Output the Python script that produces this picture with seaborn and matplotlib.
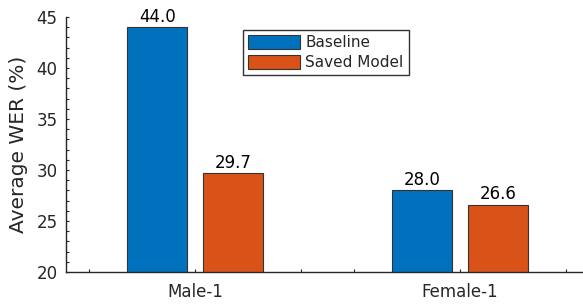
import matplotlib
matplotlib.use('Agg')
import matplotlib.pyplot as plt
from matplotlib.patches import Patch
from matplotlib.ticker import MultipleLocator
import pandas as pd
import seaborn as sns

speakers = ['Male-1', 'Female-1']
models = ['Baseline', 'Saved Model']
baseline_wer = [44.0, 28.0]
saved_wer = [29.7, 26.6]
colors = ['#0072BD', '#D95319']

df = pd.DataFrame({
    'speaker': speakers * 2,
    'model': [models[0]] * 2 + [models[1]] * 2,
    'wer': baseline_wer + saved_wer,
})

sns.set_style('ticks')
plt.rcParams['font.family'] = ['DejaVu Sans']

fig = plt.figure(figsize=(5.83, 3.04), dpi=100)
ax = fig.add_axes([66 / 583, 32 / 304, 530 / 583, 255 / 304])

sns.barplot(data=df, x='speaker', y='wer', hue='model', palette=colors,
            saturation=1, width=0.572, gap=0.21, edgecolor='#333333',
            linewidth=0.8, legend=False, ax=ax)

for c in ax.containers:
    ax.bar_label(c, fmt='%.1f', padding=1, fontsize=12, color='black')

ax.set_xlim(-0.487, 1.513)
ax.set_ylim(20, 45)
ax.yaxis.set_major_locator(MultipleLocator(5))
ax.yaxis.set_minor_locator(MultipleLocator(1))
ax.xaxis.set_minor_locator(MultipleLocator(0.2))

ax.set_xlabel('')
ax.set_ylabel('Average WER (%)', fontsize=14.5, color='#262626', labelpad=6)

for side in ['top', 'right']:
    ax.spines[side].set_visible(False)
for side in ['left', 'bottom']:
    ax.spines[side].set_color('#262626')
    ax.spines[side].set_linewidth(1.0)

ax.tick_params(which='both', direction='in', length=2.5, width=0.8,
               color='#262626', labelcolor='#262626')
ax.tick_params(axis='y', labelsize=12, pad=6)
ax.tick_params(axis='x', labelsize=12, pad=8)

handles = [Patch(facecolor=col, edgecolor='#333333', linewidth=0.8, label=m)
           for col, m in zip(colors, models)]
leg = fig.legend(handles=handles, loc='upper left',
                 bbox_to_anchor=(243 / 583, 1 - 30 / 304),
                 fontsize=11, frameon=True, fancybox=False,
                 handlelength=3.4, handleheight=1.05, handletextpad=0.35,
                 labelspacing=0.3, borderpad=0.33, borderaxespad=0)
leg.get_frame().set_edgecolor('black')
leg.get_frame().set_linewidth(1.0)

fig.savefig('out.png', dpi=100)
